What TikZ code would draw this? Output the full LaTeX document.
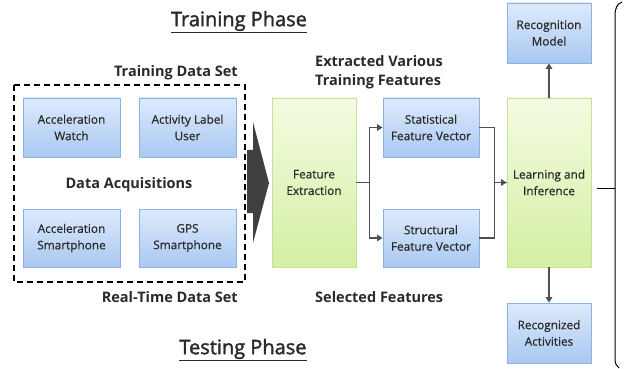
\documentclass[tikz,border=0pt]{standalone}
\usepackage{fontspec}
\setmainfont{Open Sans}
\newfontfamily\medfont[FakeBold=0.6]{Open Sans}
\newfontfamily\semifont[FakeBold=1.8]{Open Sans}
\usetikzlibrary{arrows.meta}
\definecolor{btop}{HTML}{DDEAFC}
\definecolor{bbot}{HTML}{A9C8F1}
\definecolor{bbord}{HTML}{8FB1E0}
\definecolor{gtop}{HTML}{F4FCE2}
\definecolor{gbot}{HTML}{D4EFA2}
\definecolor{gbord}{HTML}{C5E09B}
\definecolor{txt}{HTML}{2A2A2A}
\definecolor{conn}{HTML}{505050}
\definecolor{bigarrow}{HTML}{404040}
\begin{document}
\begin{tikzpicture}[x=1pt,y=-1pt,
  box/.style={inner sep=0pt, align=center, text=txt, line width=0.8pt,
    font=\medfont\fontsize{11.8}{16.5}\selectfont},
  bluebox/.style={box, draw=bbord, top color=btop, bottom color=bbot},
  greenbox/.style={box, draw=gbord, top color=gtop, bottom color=gbot},
  lbl/.style={text=txt, font=\bfseries\fontsize{14.5}{19}\selectfont, inner sep=0pt},
  phase/.style={text=txt, font=\semifont\fontsize{20}{24}\selectfont, inner sep=0pt},
  flow/.style={draw=conn, line width=1.5pt, -{Triangle[length=5.5pt,width=6.5pt]}},
  plain/.style={draw=conn, line width=1.5pt}
]
\useasboundingbox (0,0) rectangle (625,369);

% dashed frame
\draw[line width=1.6pt, dash pattern=on 6pt off 4pt, draw=black] (14,85) rectangle (245,282);

% data boxes
\node[bluebox, minimum width=97pt, minimum height=59pt] (aw) at (71.5,127.5) {Acceleration\\Watch};
\node[bluebox, minimum width=97pt, minimum height=59pt] (al) at (187.5,127.5) {Activity Label\\User};
\node[bluebox, minimum width=97pt, minimum height=58pt] (as) at (71.5,238) {Acceleration\\Smartphone};
\node[bluebox, minimum width=97pt, minimum height=58pt] (gps) at (187.5,238) {GPS\\Smartphone};

% labels
\node[phase, anchor=center] (tp) at (239,22) {\underline{Training Phase}};
\node[phase, anchor=center] (tsp) at (243,350) {\underline{Testing Phase}};
\node[lbl, anchor=east] (tds) at (238,73) {Training Data Set};
\node[lbl] (da) at (129,185) {Data Acquisitions};
\node[lbl, anchor=east] (rtds) at (238,297) {Real-Time Data Set};
\node[lbl, anchor=west, align=left] (evt) at (315,72) {Extracted Various\\Training Features};
\node[lbl, anchor=west] (sf) at (315,297) {Selected Features};

% big arrow
\fill[bigarrow] (247,150) -- (253,150) -- (253,122) -- (269,183) -- (253,243) -- (253,213) -- (247,213) -- cycle;

% processing boxes
\node[greenbox, minimum width=84pt, minimum height=169pt] (fe) at (314,182.5) {Feature\\Extraction};
\node[bluebox, minimum width=96pt, minimum height=59pt] (sv) at (431,127.5) {Statistical\\Feature Vector};
\node[bluebox, minimum width=96pt, minimum height=58pt] (st) at (431,238) {Structural\\Feature Vector};
\node[greenbox, minimum width=84pt, minimum height=169pt] (li) at (549,182.5) {Learning and\\Inference};
\node[bluebox, minimum width=84pt, minimum height=60pt] (rm) at (549,33) {Recognition\\Model};
\node[bluebox, minimum width=84pt, minimum height=60pt] (ra) at (549,333) {Recognized\\Activities};

% connectors
\draw[flow] (fe.east) -- ++(13,0) |- (sv.west);
\draw[flow] (fe.east) -- ++(13,0) |- (st.west);
\draw[plain] (sv.east) -- ++(15,0) |- (li.west);
\draw[flow] (st.east) -- ++(15,0) |- (li.west);
\draw[flow] (li.north) -- (rm.south);
\draw[flow] (li.south) -- (ra.north);

% right bracket
\coordinate (bs) at (597,189);
\coordinate (bk) at (615,189);
\draw[line width=1pt] (bs) -- (bk);
\draw[line width=1pt] (622,2) .. controls (617,4) and (615,8) .. (615,16) -- (615,358) .. controls (615,363) and (616,366) .. (619,368);
\end{tikzpicture}
\end{document}
